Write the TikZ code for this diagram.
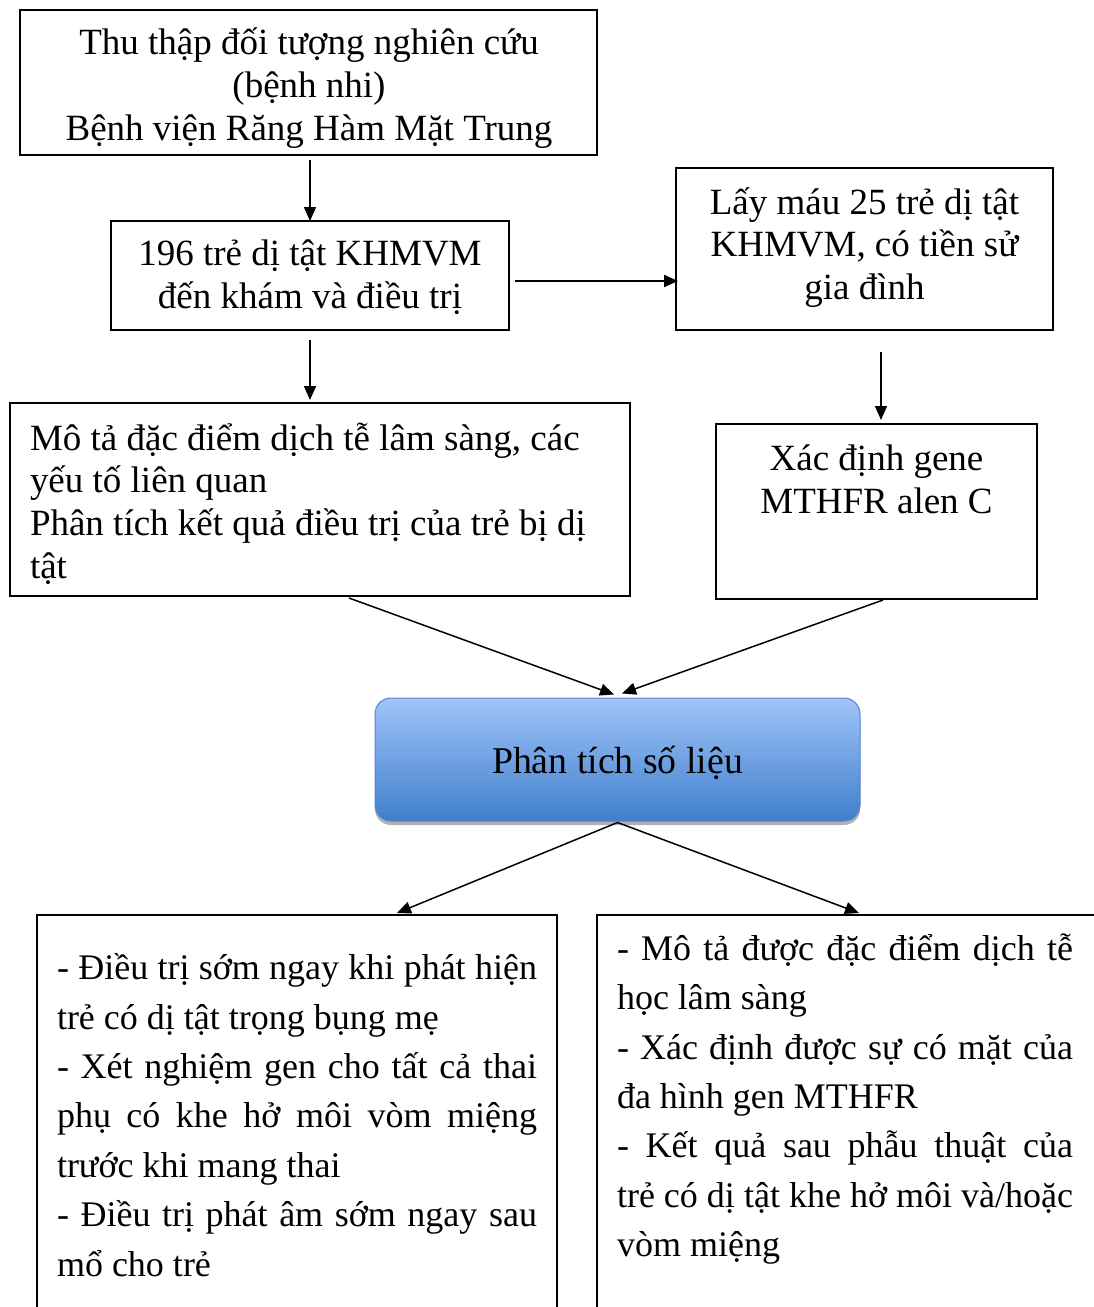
\documentclass[tikz,border=0pt]{standalone}
\usepackage{fontspec}
\setmainfont{Liberation Serif}
\usetikzlibrary{arrows.meta,shadows,calc}
\definecolor{ftop}{RGB}{160,197,250}
\definecolor{fbot}{RGB}{64,126,203}
\definecolor{fborder}{RGB}{86,134,200}
\newcommand{\jline}[2]{\hbox to #1{\spaceskip=.25em plus .6em minus .1em\relax #2}}
\begin{document}
\begin{tikzpicture}[x=1pt,y=-1pt,
  every node/.style={font=\fontsize{37}{42.7}\selectfont},
  box/.style={draw=black,line width=1.6pt,inner sep=0pt,outer sep=0pt,fill=white},
  txt/.style={inner sep=0pt,outer sep=0pt},
  bigtxt/.style={inner sep=0pt,outer sep=0pt,align=left,anchor=west,font=\fontsize{36}{49.4}\selectfont},
  arr/.style={line width=1.5pt,-{Triangle[length=14pt,width=12pt]}}]
\useasboundingbox (0,0) rectangle (1093,1307);
% boxes
\node[box,minimum width=577pt,minimum height=145pt] (A) at (308.5,82.5) {};
\node[txt,align=center] (At) at (309,88) {Thu thập đối tượng nghiên cứu\\(bệnh nhi)\\Bệnh viện Răng Hàm Mặt Trung};
\node[box,minimum width=398pt,minimum height=109pt] (B) at (310,275.5) {};
\node[txt,align=center] (Bt) at (310,277.5) {196 trẻ dị tật KHMVM\\đến khám và điều trị};
\node[box,minimum width=377pt,minimum height=162pt] (C) at (864.5,249) {};
\node[txt,align=center] (Ct) at (864.5,247.5) {Lấy máu 25 trẻ dị tật\\KHMVM, có tiền sử\\gia đình};
\node[box,minimum width=620pt,minimum height=193pt] (D) at (320,499.5) {};
\node[txt,align=left,anchor=west] (Dt) at (30,503.5)
  {Mô tả đặc điểm dịch tễ lâm sàng, các\\yếu tố liên quan\\Phân tích kết quả điều trị của trẻ bị dị\\tật};
\node[box,minimum width=321pt,minimum height=175pt] (E) at (876.5,511.5) {};
\node[txt,align=center] (Et) at (876.5,479) {Xác định gene\\MTHFR alen C};
\node[draw=fborder,line width=1pt,rounded corners=16pt,top color=ftop,bottom color=fbot,
  minimum width=485pt,minimum height=123pt,inner sep=0pt,
  drop shadow={shadow xshift=0pt,shadow yshift=-4pt,opacity=0.3,fill=black}] (F) at (617.5,759.5) {};
\node[txt,font=\fontsize{37.8}{44}\selectfont] (Ft) at (617.5,763) {Phân tích số liệu};
\node[box,minimum width=520pt,minimum height=405pt] (G) at (297,1117.5) {};
\node[box,minimum width=513pt,minimum height=405pt] (H) at (853.5,1117.5) {};
\node[bigtxt] (Gt) at (57,1115)
  {\jline{480pt}{- Điều trị sớm ngay khi phát hiện}\\
   trẻ có dị tật trọng bụng mẹ\\
   \jline{480pt}{- Xét nghiệm gen cho tất cả thai}\\
   \jline{480pt}{phụ có khe hở môi vòm miệng}\\
   trước khi mang thai\\
   \jline{480pt}{- Điều trị phát âm sớm ngay sau}\\
   mổ cho trẻ};
\node[bigtxt] (Ht) at (617,1099)
  {\jline{456pt}{- Mô tả được đặc điểm dịch tễ}\\
   học lâm sàng\\
   \jline{456pt}{- Xác định được sự có mặt của}\\
   đa hình gen MTHFR\\
   \jline{456pt}{- Kết quả sau phẫu thuật của}\\
   \jline{456pt}{trẻ có dị tật khe hở môi và/hoặc}\\
   vòm miệng};
% connectors
\draw[arr] ($(A.south -| B.north)+(0,5)$) -- (B.north);
\draw[arr,line width=2.2pt] ($(B.east)+(6,5.5)$) -- ($(B.east -| C.west)+(2,5.5)$);
\draw[arr] ($(B.south)+(0,10)$) -- ($(D.north -| B.south)+(0,-3)$);
\draw[arr] ($(C.south)+(16.5,22)$) -- ($(E.north)+(4.5,-4)$);
\draw[arr] ($(D.south)+(29,2)$) -- ($(F.north)+(-3.5,-3)$);
\draw[arr] ($(E.south)+(6.5,1)$) -- ($(F.north)+(4.5,-4)$);
\draw[arr] ($(F.south)+(0,1)$) -- ($(G.north)+(100,-2)$);
\draw[arr] ($(F.south)+(0,1)$) -- ($(H.north)+(5.5,-2)$);
\end{tikzpicture}
\end{document}
